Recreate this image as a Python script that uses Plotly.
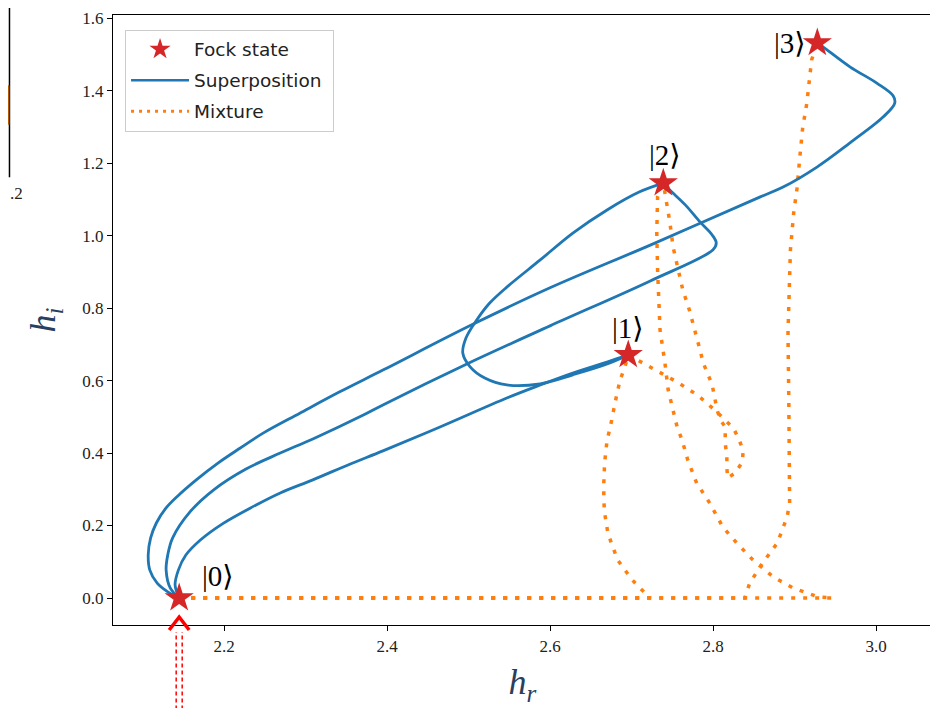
import plotly.graph_objects as go

# Fock states
fock_x = [2.145, 2.696, 2.739, 2.928]
fock_y = [0.0, 0.671, 1.145, 1.532]
fock_labels = ["|0⟩", "|1⟩", "|2⟩", "|3⟩"]

# Superposition curves
sup01_x = [2.145, 2.140, 2.144, 2.153, 2.171, 2.199, 2.232, 2.269, 2.309, 2.355, 2.395, 2.465, 2.547, 2.588,
           2.628, 2.670, 2.696]
sup01_y = [0.0, 0.036, 0.077, 0.118, 0.160, 0.206, 0.248, 0.290, 0.326, 0.370, 0.406, 0.472, 0.552, 0.588,
           0.621, 0.651, 0.671]

sup02_x = [2.145, 2.134, 2.129, 2.131, 2.137, 2.158, 2.187, 2.227, 2.269, 2.309, 2.371, 2.395, 2.498, 2.600,
           2.723, 2.800, 2.804, 2.799, 2.784, 2.766, 2.747, 2.739]
sup02_y = [0.0, 0.028, 0.077, 0.119, 0.166, 0.237, 0.298, 0.356, 0.400, 0.439, 0.505, 0.533, 0.646, 0.751,
           0.875, 0.961, 0.980, 1.002, 1.038, 1.085, 1.126, 1.145]

sup03_x = [2.145, 2.131, 2.118, 2.109, 2.107, 2.110, 2.117, 2.128, 2.143, 2.166, 2.193, 2.220, 2.248, 2.293,
           2.342, 2.395, 2.504, 2.600, 2.723, 2.858, 2.886, 2.928, 2.968, 3.009, 3.023, 3.021, 3.001, 2.968,
           2.935, 2.928]
sup03_y = [0.0, 0.017, 0.041, 0.077, 0.119, 0.166, 0.207, 0.246, 0.281, 0.326, 0.373, 0.414, 0.455, 0.510,
           0.569, 0.629, 0.754, 0.856, 0.974, 1.107, 1.134, 1.190, 1.256, 1.328, 1.366, 1.386, 1.421, 1.466,
           1.521, 1.532]

sup12_x = [2.696, 2.670, 2.628, 2.588, 2.547, 2.520, 2.502, 2.493, 2.497, 2.510, 2.526, 2.547, 2.588, 2.628,
           2.670, 2.710, 2.739]
sup12_y = [0.671, 0.646, 0.616, 0.591, 0.588, 0.607, 0.638, 0.676, 0.718, 0.767, 0.814, 0.858, 0.933, 1.007,
           1.071, 1.121, 1.145]

# Mixture curves
mix01_x = [2.145, 2.723, 2.710, 2.701, 2.692, 2.683, 2.677, 2.671, 2.667, 2.666, 2.666, 2.667, 2.670, 2.674,
           2.680, 2.686, 2.692, 2.696]
mix01_y = [0.0, 0.0, 0.028, 0.050, 0.077, 0.105, 0.141, 0.179, 0.235, 0.270, 0.317, 0.373, 0.436, 0.472,
           0.541, 0.602, 0.638, 0.671]

mix02_x = [2.145, 2.947, 2.929, 2.915, 2.898, 2.874, 2.849, 2.829, 2.812, 2.796, 2.780, 2.769, 2.762, 2.756,
           2.745, 2.741, 2.735, 2.732, 2.731, 2.732, 2.739]
mix02_y = [0.0, 0.0, 0.003, 0.014, 0.028, 0.058, 0.105, 0.152, 0.196, 0.262, 0.317, 0.381, 0.436, 0.472,
           0.574, 0.649, 0.740, 0.905, 1.007, 1.107, 1.145]

mix03_x = [2.145, 2.839, 2.845, 2.861, 2.879, 2.891, 2.894, 2.894, 2.893, 2.892, 2.895, 2.899, 2.903, 2.907,
           2.910, 2.915, 2.918, 2.921, 2.928]
mix03_y = [0.0, 0.0, 0.041, 0.097, 0.152, 0.224, 0.262, 0.373, 0.547, 0.731, 0.961, 1.063, 1.129, 1.228,
           1.297, 1.364, 1.430, 1.485, 1.532]

mix12_x = [2.696, 2.714, 2.731, 2.756, 2.781, 2.802, 2.825, 2.831, 2.837, 2.836, 2.827, 2.818, 2.817, 2.817,
           2.815, 2.815, 2.809, 2.805, 2.799, 2.793, 2.788, 2.784, 2.778, 2.771, 2.763, 2.757, 2.751, 2.747,
           2.744, 2.739]
mix12_y = [0.671, 0.649, 0.629, 0.596, 0.560, 0.519, 0.469, 0.442, 0.408, 0.375, 0.345, 0.331, 0.359, 0.389,
           0.428, 0.472, 0.491, 0.519, 0.588, 0.621, 0.649, 0.685, 0.740, 0.795, 0.850, 0.911, 0.969, 1.038,
           1.076, 1.145]

x_ticks = [2.2, 2.4, 2.6, 2.8, 3.0]
y_ticks = [0.0, 0.2, 0.4, 0.6, 0.8, 1.0, 1.2, 1.4, 1.6]

BLUE = "#1f77b4"
ORANGE = "#ff7f0e"
RED = "#d62728"

fig = go.Figure()

# legend entries (in the reference's order)
fig.add_trace(go.Scatter(x=[None], y=[None], mode="markers", name="Fock state", legendgroup="fock",
                         marker=dict(symbol="star", size=16, color=RED, line=dict(width=0))))
fig.add_trace(go.Scatter(x=[None], y=[None], mode="lines", name="Superposition\u00a0", legendgroup="sup",
                         line=dict(color=BLUE, width=2.6)))
fig.add_trace(go.Scatter(x=[None], y=[None], mode="lines", name="Mixture", legendgroup="mix",
                         line=dict(color=ORANGE, width=3, dash="3px,5px")))

sup = [(sup01_x, sup01_y), (sup02_x, sup02_y), (sup03_x, sup03_y), (sup12_x, sup12_y)]
mix = [(mix01_x, mix01_y), (mix02_x, mix02_y), (mix03_x, mix03_y), (mix12_x, mix12_y)]

for xs, ys in mix:
    fig.add_trace(go.Scatter(x=xs, y=ys, mode="lines", name="Mixture", legendgroup="mix", showlegend=False,
                             line=dict(color=ORANGE, width=3.5, dash="4px,8px")))
for xs, ys in sup:
    fig.add_trace(go.Scatter(x=xs, y=ys, mode="lines", name="Superposition", legendgroup="sup",
                             showlegend=False,
                             line=dict(color=BLUE, width=2.8, shape="spline", smoothing=1.0)))
fig.add_trace(go.Scatter(x=fock_x, y=fock_y, mode="markers", name="Fock state", legendgroup="fock",
                         showlegend=False,
                         marker=dict(symbol="star", size=22, color=RED, line=dict(width=0))))

label_shift = [(39, 22), (0, 27), (2, 28), (-27, 0)]
for xv, yv, t, (sx, sy) in zip(fock_x, fock_y, fock_labels, label_shift):
    fig.add_annotation(x=xv, y=yv, text=t, showarrow=False, xshift=sx, yshift=sy,
                       font=dict(family="Liberation Serif, DejaVu Serif", size=29, color="black"))

axis_common = dict(showline=True, linecolor="black", linewidth=1.2, mirror=True, ticks="outside",
                   ticklen=5, tickcolor="black", showgrid=False, zeroline=False, automargin=False,
                   tickfont=dict(family="Liberation Serif", size=17, color="#222"))

fig.update_layout(
    width=930, height=700,
    margin=dict(l=105, r=6, t=7, b=83),
    plot_bgcolor="white", paper_bgcolor="white",
    xaxis=dict(range=[2.0638, 3.0687], tickvals=x_ticks, ticktext=[f"{v:.1f}" for v in x_ticks],
               title=dict(text="<i>h</i><sub><i>r</i></sub>", font=dict(family="Liberation Serif", size=36),
                          standoff=14), **axis_common),
    yaxis=dict(range=[-0.0745, 1.609], tickvals=y_ticks, ticktext=[f"{v:.1f}" for v in y_ticks],
               title=dict(text="<i>h</i><sub><i>i</i></sub>", font=dict(family="Liberation Serif", size=36),
                          standoff=15), **axis_common),
    legend=dict(x=0.0147, y=0.976, xanchor="left", yanchor="top", bgcolor="rgba(255,255,255,0.9)",
                bordercolor="#cccccc", borderwidth=1, font=dict(family="DejaVu Sans", size=18.5, color="#222"),
                traceorder="grouped", tracegroupgap=4, itemwidth=58),
    showlegend=True,
)

# highlight arrow below |0> (overlay markup in the screenshot)
for dx in (-3, 3):
    fig.add_shape(type="line", xref="x", yref="paper", xsizemode="pixel", xanchor=fock_x[0],
                  x0=dx, x1=dx, y0=-0.15, y1=-0.0115,
                  line=dict(color="red", width=1.5, dash="4px,3px"))
fig.add_shape(type="path", xref="x", yref="paper", xsizemode="pixel", xanchor=fock_x[0],
              path="M -10 -0.0082 L 0 0.0131 L 10 -0.0082", line=dict(color="red", width=3.5))

# fragment of a neighbouring panel at the left edge of the screenshot
fig.add_shape(type="line", xref="paper", yref="paper", x0=-0.1264, x1=-0.1264, y0=0.734, y1=1.03,
              line=dict(color="black", width=1.5))
fig.add_shape(type="line", xref="paper", yref="paper", x0=-0.1276, x1=-0.1276, y0=0.82, y1=0.885,
              line=dict(color="#b35a00", width=2))
fig.add_annotation(xref="paper", yref="paper", x=-0.1282, y=0.726, xanchor="left", text=".2",
                   showarrow=False, font=dict(family="Liberation Serif", size=17, color="#222"))

fig.write_html("out.html")
